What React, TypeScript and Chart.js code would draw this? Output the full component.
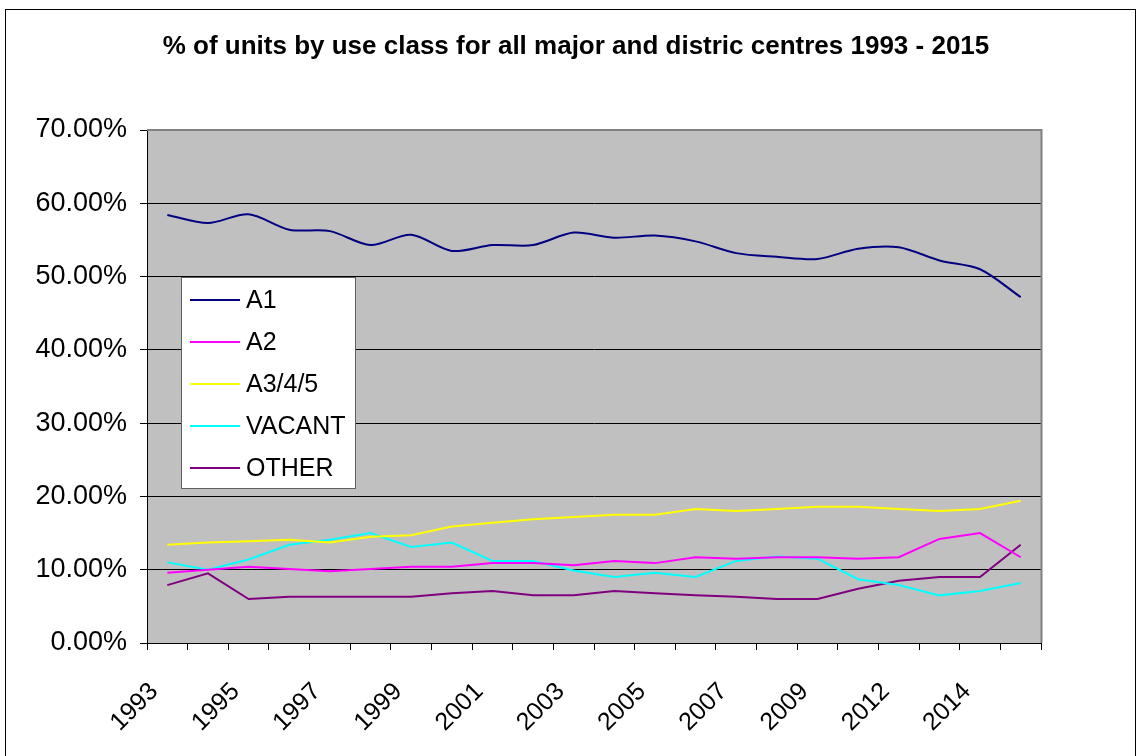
import React, { useEffect, useRef } from 'react';
import { Chart, registerables } from 'chart.js';

Chart.register(...registerables);

const FONT = '"Liberation Sans", Arial, Helvetica, sans-serif';

const title = '% of units by use class for all major and distric centres 1993 - 2015';

const years = [
  '1993', '1994', '1995', '1996', '1997', '1998', '1999', '2000', '2001', '2002', '2003',
  '2004', '2005', '2006', '2007', '2008', '2009', '2010', '2012', '2013', '2014', '2015',
];

const yTicks = [0, 0.1, 0.2, 0.3, 0.4, 0.5, 0.6, 0.7];

const a1 = [0.584, 0.573, 0.585, 0.564, 0.562, 0.543, 0.557, 0.535, 0.543, 0.543, 0.56,
  0.553, 0.556, 0.548, 0.532, 0.527, 0.524, 0.538, 0.54, 0.522, 0.51, 0.472];
const a2 = [0.096, 0.1, 0.104, 0.101, 0.098, 0.101, 0.104, 0.104, 0.109, 0.109, 0.106,
  0.112, 0.109, 0.117, 0.115, 0.117, 0.117, 0.115, 0.117, 0.142, 0.15, 0.117];
const a345 = [0.134, 0.137, 0.139, 0.141, 0.137, 0.145, 0.147, 0.159, 0.164, 0.169, 0.172,
  0.175, 0.175, 0.183, 0.18, 0.183, 0.186, 0.186, 0.183, 0.18, 0.183, 0.194];
const vacant = [0.11, 0.1, 0.114, 0.134, 0.141, 0.15, 0.131, 0.137, 0.112, 0.112, 0.099,
  0.09, 0.096, 0.09, 0.112, 0.118, 0.115, 0.087, 0.079, 0.065, 0.071, 0.082];
const other = [0.079, 0.095, 0.06, 0.063, 0.063, 0.063, 0.063, 0.068, 0.071, 0.065, 0.065,
  0.071, 0.068, 0.065, 0.063, 0.06, 0.06, 0.074, 0.085, 0.09, 0.09, 0.134];

const seriesNames = ['A1', 'A2', 'A3/4/5', 'VACANT', 'OTHER'];
const seriesColors = ['#000080', '#FF00FF', '#FFFF00', '#00FFFF', '#800080'];

const framePlugin = {
  id: 'frame',
  beforeDraw(chart: any) {
    const { ctx, chartArea } = chart;
    ctx.save();
    ctx.fillStyle = '#FFFFFF';
    ctx.fillRect(0, 0, chart.width, chart.height);
    ctx.strokeStyle = '#000000';
    ctx.lineWidth = 1;
    ctx.strokeRect(5.5, 9.5, 1130, 760);
    ctx.fillStyle = '#C0C0C0';
    ctx.fillRect(chartArea.left, chartArea.top, chartArea.right - chartArea.left, chartArea.bottom - chartArea.top);
    ctx.fillStyle = '#000000';
    ctx.font = `bold 26px ${FONT}`;
    ctx.textAlign = 'center';
    ctx.textBaseline = 'middle';
    ctx.fillText(title, 576, 47);
    ctx.restore();
  },
  beforeDatasetsDraw(chart: any) {
    const { ctx, chartArea } = chart;
    ctx.save();
    ctx.strokeStyle = '#808080';
    ctx.lineWidth = 2;
    ctx.beginPath();
    ctx.moveTo(chartArea.left, chartArea.top);
    ctx.lineTo(chartArea.right + 0.5, chartArea.top);
    ctx.lineTo(chartArea.right + 0.5, chartArea.bottom);
    ctx.stroke();
    ctx.restore();
  },
  afterDraw(chart: any) {
    const { ctx } = chart;
    ctx.save();
    const bx = 181.5, by = 277.5, bw = 174, bh = 211;
    ctx.fillStyle = '#FFFFFF';
    ctx.fillRect(bx, by, bw, bh);
    ctx.strokeStyle = '#606060';
    ctx.lineWidth = 1;
    ctx.strokeRect(bx, by, bw, bh);
    ctx.font = `25px ${FONT}`;
    ctx.textAlign = 'left';
    ctx.textBaseline = 'middle';
    chart.data.datasets.forEach((ds: any, i: number) => {
      const y = 300 + i * 42;
      ctx.strokeStyle = ds.borderColor;
      ctx.lineWidth = 2;
      ctx.beginPath();
      ctx.moveTo(190, y);
      ctx.lineTo(240, y);
      ctx.stroke();
      ctx.fillStyle = '#000000';
      ctx.fillText(ds.label, 246, y + 1);
    });
    ctx.restore();
  },
};

export default function App() {
  const ref = useRef<HTMLCanvasElement | null>(null);

  useEffect(() => {
    if (!ref.current) return;
    const seriesData = [a1, a2, a345, vacant, other];
    const chart = new Chart(ref.current, {
      type: 'line',
      data: {
        labels: years,
        datasets: seriesNames.map((name, i) => ({
          label: name,
          data: seriesData[i],
          borderColor: seriesColors[i],
          backgroundColor: seriesColors[i],
          borderWidth: 2,
          pointRadius: 0,
          fill: false,
          tension: i === 0 ? 0.3 : 0,
        })),
      },
      options: {
        responsive: false,
        animation: false,
        layout: { padding: { top: 130, right: 97, bottom: 0, left: 0 } },
        plugins: {
          legend: { display: false },
          title: { display: false },
          tooltip: { enabled: false },
        },
        scales: {
          x: {
            type: 'category',
            offset: true,
            grid: {
              offset: true,
              drawOnChartArea: false,
              drawTicks: true,
              tickLength: 7,
              color: '#000000',
              lineWidth: 1,
            },
            border: { color: '#000000', width: 1 },
            ticks: {
              autoSkip: false,
              minRotation: 45,
              maxRotation: 45,
              padding: 27,
              labelOffset: -13,
              color: '#000000',
              font: { family: FONT, size: 25 },
              callback: (_v: any, i: number) => (i % 2 === 0 ? years[i] : ''),
            },
            afterFit: (s: any) => {
              s.height = 113;
            },
          },
          y: {
            min: 0,
            max: 0.7,
            afterBuildTicks: (s: any) => {
              s.ticks = yTicks.map((v) => ({ value: v }));
            },
            ticks: {
              color: '#000000',
              padding: 13,
              font: { family: FONT, size: 27 },
              callback: (v: any) => (Number(v) * 100).toFixed(2) + '%',
            },
            grid: {
              color: '#000000',
              lineWidth: 1,
              tickLength: 7,
            },
            border: { color: '#000000', width: 1 },
            afterFit: (s: any) => {
              s.width = 147;
            },
          },
        },
      },
      plugins: [framePlugin],
    });
    return () => chart.destroy();
  }, []);

  return (
    <div style={{ position: 'absolute', left: 0, top: 0, width: 1138, height: 756 }}>
      <canvas ref={ref} width={1138} height={756} style={{ width: 1138, height: 756, display: 'block' }} />
    </div>
  );
}
